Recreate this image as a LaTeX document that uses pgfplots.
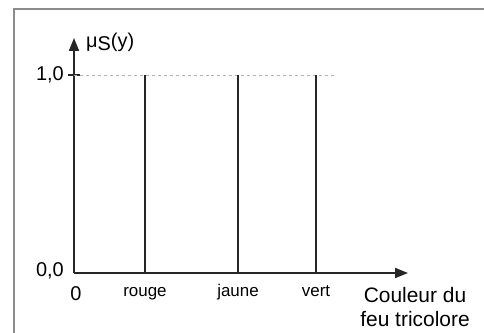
\documentclass[border=0pt]{standalone}
\usepackage{pgfplots}
\pgfplotsset{compat=1.18}
\usepackage{fontspec}
\setmainfont{Liberation Sans}
\usetikzlibrary{arrows.meta}
\begin{document}
\begin{tikzpicture}[x=1bp,y=1bp]
\path[use as bounding box] (0,0) rectangle (484,332);
\fill[white] (0,0) rectangle (484,332);
\draw[black!45, line width=2bp] (14,-20) -- (14,323) -- (500,323);
\begin{axis}[
  at={(74bp,59bp)}, anchor=south west,
  scale only axis, width=334bp, height=235bp,
  xmin=0, xmax=334, ymin=0, ymax=1.187,
  axis lines=left,
  axis line style={line width=1.9bp, black!85, -{Triangle[length=13bp,width=10bp]}},
  xtick={71,164,242}, xticklabels={rouge,jaune,vert},
  ytick={1}, yticklabels={1{,}0},
  extra y ticks={0}, extra y tick labels={0{,}0},
  extra y tick style={ytick style={draw=none}, yticklabel style={yshift=2bp}},
  xtick style={draw=none},
  ytick style={line width=1.6bp, black!85},
  major tick length=12bp, ytick align=center,
  /pgf/number format/assume math mode=true,
  xticklabel style={font=\fontsize{17}{19}\selectfont, anchor=base, yshift=-17bp, inner sep=0pt},
  yticklabel style={font=\fontsize{20}{22}\selectfont, anchor=east, inner sep=0pt, xshift=-4bp},
  clip=false,
]
\addplot[black!30, dashed, line width=0.7bp] coordinates {(0,1) (262,1)};
\addplot[ycomb, black!85, line width=2.6bp] coordinates {(71,1) (164,1) (242,1)};
\node[font=\fontsize{20}{22}\selectfont, inner sep=0pt] at (axis cs:2,0) [yshift=-21bp] {0};
\node[font=\fontsize{21}{25}\selectfont, align=center, inner sep=0pt] at (axis cs:341,0) [yshift=-34bp] {Couleur du\\feu tricolore};
\node[font=\fontsize{20}{22}\selectfont, anchor=west, inner sep=0pt] at (axis cs:12,1.167) {μ\raisebox{-3bp}{S}(y)};
\end{axis}
\end{tikzpicture}
\end{document}
